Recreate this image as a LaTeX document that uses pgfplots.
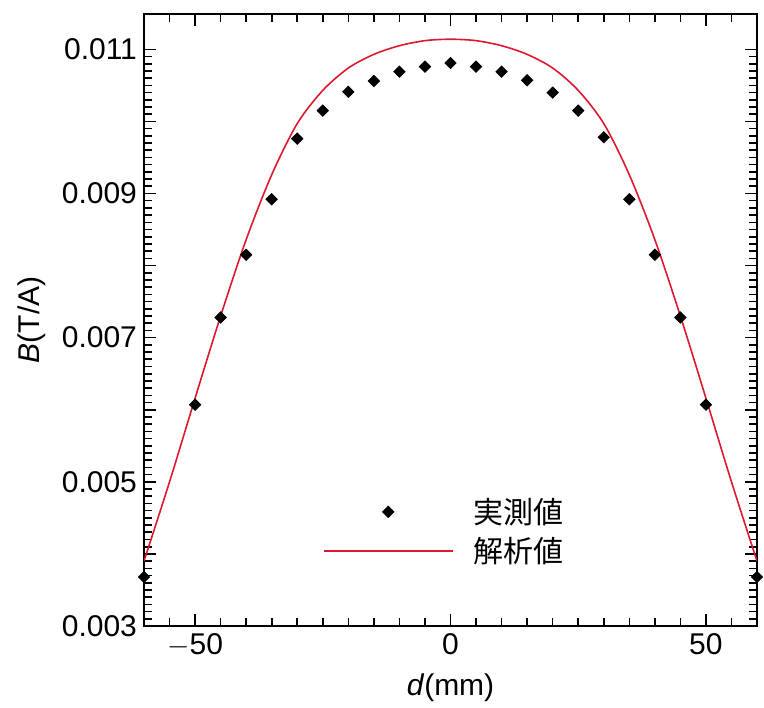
\documentclass[border=0pt]{standalone}
\usepackage{pgfplots}
\pgfplotsset{compat=1.18}
\usepackage{fontspec}
\setmainfont{Liberation Sans}
\newfontfamily\jp{Noto Sans CJK JP}
\definecolor{anared}{RGB}{222,24,48}
\begin{document}
\begin{tikzpicture}
\useasboundingbox (-72pt,-40.5pt) rectangle (310pt,313pt);
\begin{axis}[
  scale only axis,
  width=306.5pt, height=306pt,
  xmin=-60, xmax=60,
  ymin=0.003, ymax=0.01149,
  axis line style={line width=1pt},
  tick style={black, line width=0.8pt},
  tick align=inside,
  major tick length=6pt,
  minor tick length=4pt,
  xtick={-50,0,50},
  minor xtick={-55,-45,-40,-35,-30,-25,-20,-15,-10,-5,5,10,15,20,25,30,35,40,45,55},
  ytick={0.003,0.004,0.005,0.006,0.007,0.008,0.009,0.010,0.011},
  yticklabels={0.003,,0.005,,0.007,,0.009,,0.011},
  minor y tick num=9,
  scaled y ticks=false,
  /pgf/number format/assume math mode=true,
  xticklabels={$-$50,0,50},
  tick label style={font=\fontsize{15}{18}\selectfont},
  every axis y label/.style={at={(axis description cs:-0.183,0.5)}, rotate=90, anchor=center, font=\fontsize{15}{18}\selectfont},
  every axis x label/.style={at={(axis description cs:0.5,-0.101)}, anchor=center, font=\fontsize{15}{18}\selectfont},
  xlabel={\textit{d}(mm)},
  ylabel={\textit{B}(T/A)},
  legend image code/.code={\draw[mark repeat=2,mark phase=2,#1] plot coordinates {(0pt,1.2pt) (32pt,1.2pt) (64pt,1.2pt)};},
  legend style={at={(0.292,0.1507)}, anchor=west, draw=none, fill=none, inner sep=0pt,
    font=\fontsize{15}{18}\selectfont,
    nodes={inner sep=0pt, text height=11pt, text depth=2pt},
    row sep=6.5pt, column sep=10pt},
  legend cell align=left,
]
\addplot[only marks, mark=square*, mark size=2pt, mark options={rotate=45, fill=black, draw=black}] coordinates {
(-60,0.00368) (-50,0.00607) (-45,0.00728) (-40,0.00815) (-35,0.00892) (-30,0.00976)
(-25,0.01015) (-20,0.01041) (-15,0.01056) (-10,0.01069) (-5,0.01076) (0,0.01081)
(5,0.01076) (10,0.01069) (15,0.01057) (20,0.01040) (25,0.01015) (30,0.00978)
(35,0.00892) (40,0.00815) (45,0.00728) (50,0.00607) (60,0.00368)
};
\addlegendentry{\jp 実測値}
\addplot[anared, line width=0.8pt, no marks, smooth, tension=0.5] coordinates {
(-60,0.00390) (-55,0.00500) (-50,0.00616) (-45,0.00730) (-40,0.00836) (-35,0.00926)
(-30,0.00997) (-25,0.01043) (-20,0.01074) (-15,0.01093) (-10,0.01105) (-5,0.01112) (0,0.01114)
(5,0.01112) (10,0.01105) (15,0.01093) (20,0.01074) (25,0.01043) (30,0.00997)
(35,0.00926) (40,0.00836) (45,0.00730) (50,0.00616) (55,0.00500) (60,0.00390)
};
\addlegendentry{\jp 解析値}
\end{axis}
\end{tikzpicture}
\end{document}
